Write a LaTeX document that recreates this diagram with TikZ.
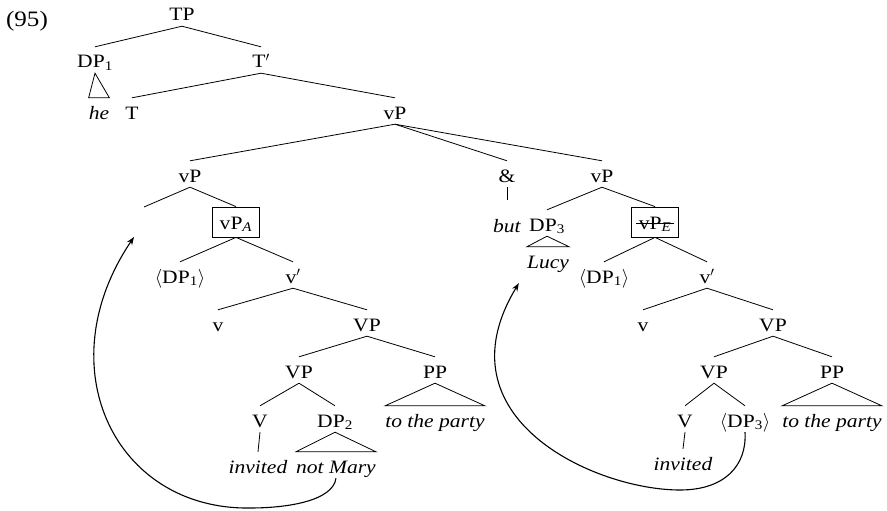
\RequirePackage{fix-cm}
\documentclass[tikz,border=0pt]{standalone}
\usepackage{fontspec}
\setmainfont{Liberation Serif}[FakeStretch=1.14]
\usetikzlibrary{calc,arrows.meta}
\tikzset{
	lab/.style={anchor=base, text height=17pt, text depth=1pt, inner xsep=0pt, inner ysep=4pt},
	boxed/.style={lab, draw, line width=0.8pt, text depth=3pt, inner xsep=7pt, inner ysep=5pt},
	branch/.style={line width=0.8pt},
	move/.style={line width=1.1pt, -{Stealth[length=8pt,width=6pt]}},
}

\begin{document}
\begin{tikzpicture}[x=1pt, y=-1pt, font=\fontsize{18.9}{22}\selectfont]
			\useasboundingbox (0,0) rectangle (887,511);
			%%%%% START %%%%%
			
			\node[lab, font=\fontsize{22}{26}\selectfont] (ex) at (27,27) {(95)};
			\node[lab] (tp) at (182,21) {TP};
			\node[lab] (dpa) at (95,68) {DP\textsubscript{1}};
			\node[lab] (tbar) at (261,68) {T$'$};
			\node[lab] (he) at (99,119) {\textit{he}};
			\node[lab] (t) at (132,119) {T};
			\node[lab] (vp) at (395,119) {vP};
			
			% conjuncts
			\node[lab] (vpl) at (190,182) {vP};
			\node[lab] (amp) at (507,182) {\&};
			\node[lab] (vpr) at (602,182) {vP};
			\coordinate (gapA) at (144,207);
			\node[boxed] (vpa) at (236,229) {vP\textsubscript{\textit{A}}};
			\node[lab] (but) at (507,232) {\textit{but}};
			\node[lab] (dpc) at (547,231) {DP\textsubscript{3}};
			\node[boxed] (vpe) at (655,229) {vP\textsubscript{\textit{E}}};
			\node[lab] (lucy) at (548,268) {\textit{Lucy}};
			
			% left vP
			\node[lab] (tra) at (180,283) {$\langle$DP\textsubscript{1}$\rangle$};
			\node[lab] (vbarl) at (293,283) {v$'$};
			\node[lab] (vl) at (218,331) {v};
			\node[lab] (VPl) at (367,331) {VP};
			\node[lab] (vpll) at (299,378) {VP};
			\node[lab] (ppl) at (435,378) {PP};
			\node[lab] (Vl) at (260,427) {V};
			\node[lab] (dpb) at (335,427) {DP\textsubscript{2}};
			\node[lab] (partyl) at (435,427) {\textit{to the party}};
			\node[lab] (invl) at (258,473) {\textit{invited}};
			\node[lab] (mary) at (336,473) {\textit{not Mary}};
			
			% right vP
			\node[lab] (trb) at (604,283) {$\langle$DP\textsubscript{1}$\rangle$};
			\node[lab] (vbarr) at (707,283) {v$'$};
			\node[lab] (vr) at (643,331) {v};
			\node[lab] (VPr) at (773,331) {VP};
			\node[lab] (vprr) at (714,378) {VP};
			\node[lab] (ppr) at (832,378) {PP};
			\node[lab] (Vr) at (685,427) {V};
			\node[lab] (trc) at (745,427) {$\langle$DP\textsubscript{3}$\rangle$};
			\node[lab] (partyr) at (832,427) {\textit{to the party}};
			\node[lab] (invr) at (683,470) {\textit{invited}};
			
			%%%%% BRANCHES %%%%%
			\draw[branch] (tp.south) -- (dpa.north);
			\draw[branch] (tp.south) -- (tbar.north);
			\draw[branch] (dpa.south) -- (he.north west) -- (he.north east) -- cycle;
			\draw[branch] (tbar.south) -- (t.north);
			\draw[branch] (tbar.south) -- (vp.north);
			\draw[branch] (vp.south) -- (vpl.north);
			\draw[branch] (vp.south) -- (amp.north);
			\draw[branch] (vp.south) -- (vpr.north);
			\draw[branch] (amp.south) -- ($(but.north)+(0,-11)$);
			
			\draw[branch] (vpl.south) -- (gapA);
			\draw[branch] (vpl.south) -- (vpa.north);
			\draw[branch] (vpa.south) -- (tra.north);
			\draw[branch] (vpa.south) -- (vbarl.north);
			\draw[branch] (vbarl.south) -- (vl.north);
			\draw[branch] (vbarl.south) -- (VPl.north);
			\draw[branch] (VPl.south) -- (vpll.north);
			\draw[branch] (VPl.south) -- (ppl.north);
			\draw[branch] (vpll.south) -- (Vl.north);
			\draw[branch] (vpll.south) -- (dpb.north);
			\draw[branch] (ppl.south) -- (partyl.north west) -- (partyl.north east) -- cycle;
			\draw[branch] (Vl.south) -- (invl.north);
			\draw[branch] (dpb.south) -- (mary.north west) -- (mary.north east) -- cycle;
			
			\draw[branch] (vpr.south) -- (dpc.north);
			\draw[branch] (vpr.south) -- (vpe.north);
			\draw[branch] (dpc.south) -- (lucy.north west) -- (lucy.north east) -- cycle;
			\draw[branch] ($(vpe.base west)+(5,-6)$) -- ($(vpe.base east)+(-5,-6)$);
			\draw[branch] (vpe.south) -- (trb.north);
			\draw[branch] (vpe.south) -- (vbarr.north);
			\draw[branch] (vbarr.south) -- (vr.north);
			\draw[branch] (vbarr.south) -- (VPr.north);
			\draw[branch] (VPr.south) -- (vprr.north);
			\draw[branch] (VPr.south) -- (ppr.north);
			\draw[branch] (vprr.south) -- (Vr.north);
			\draw[branch] (vprr.south) -- (trc.north);
			\draw[branch] (ppr.south) -- (partyr.north west) -- (partyr.north east) -- cycle;
			\draw[branch] (Vr.south) -- (invr.north);
			
			%%%%% MOVEMENT %%%%%
			\draw[move] (mary.south) .. controls +(-3,22) and +(40,0) .. (250,508)
				.. controls +(-135,2) and +(-88,130) .. ($(gapA)+(-10,30)$);
			\draw[move] (trc.south) .. controls +(2,33) and +(45,0) .. (680,490)
				.. controls +(-85,0) and +(-82,135) .. ($(lucy.south west)+(-8,10)$);
			
			%%%%% END %%%%%
\end{tikzpicture}
\end{document}
